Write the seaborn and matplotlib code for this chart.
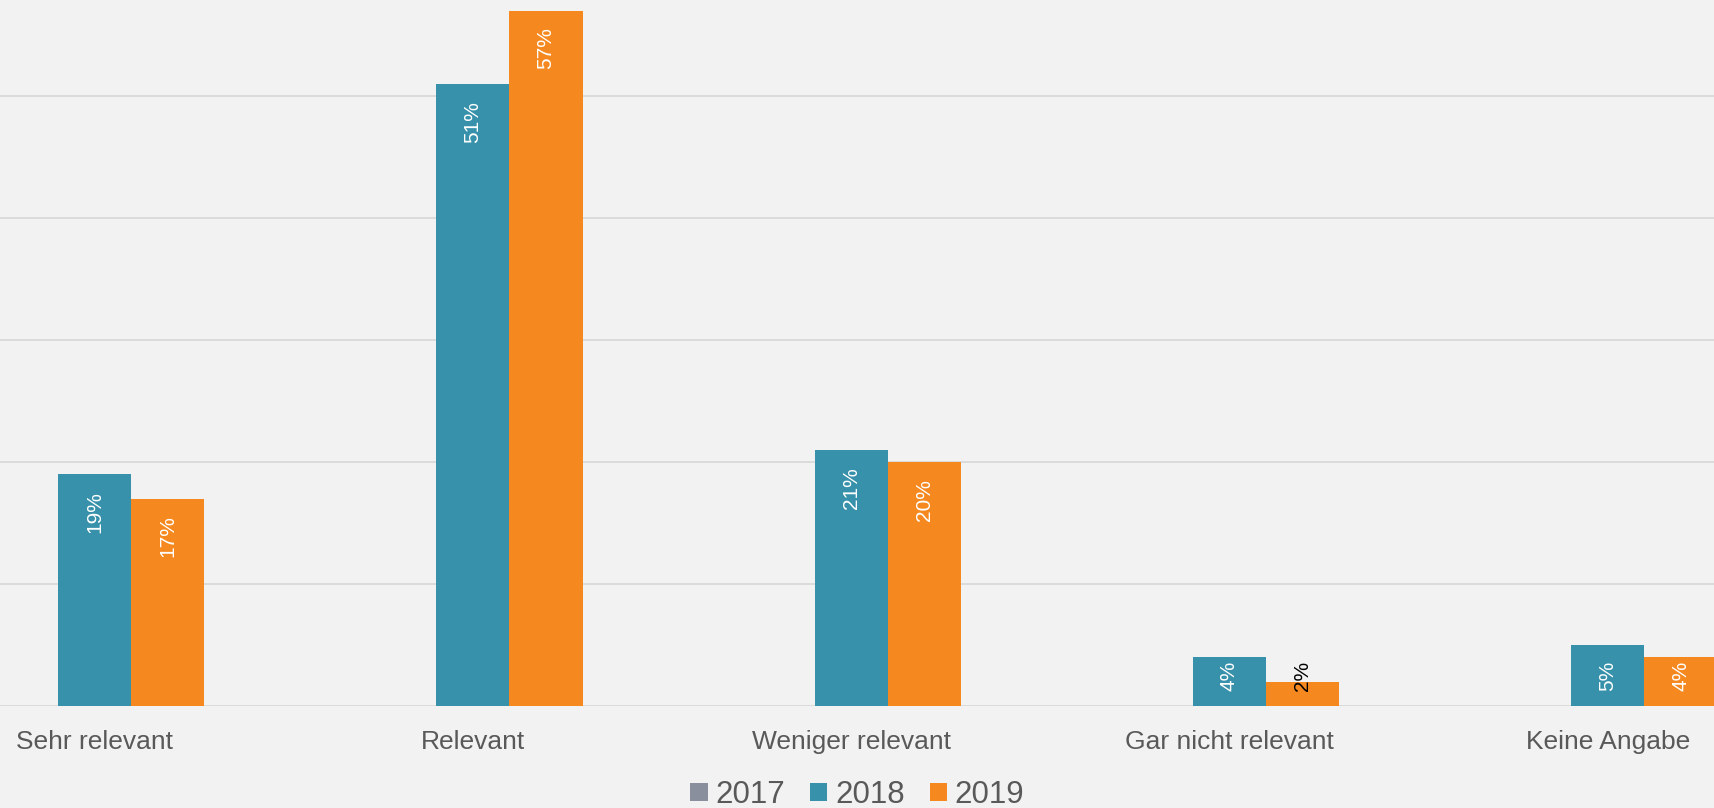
import numpy as np
import pandas as pd
import matplotlib.pyplot as plt
import seaborn as sns
from matplotlib.patches import Patch

categories = ["Sehr relevant", "Relevant", "Weniger relevant", "Gar nicht relevant", "Keine Angabe"]
years = ["2017", "2018", "2019"]
vals_2017 = [np.nan, np.nan, np.nan, np.nan, np.nan]
vals_2018 = [19, 51, 21, 4, 5]
vals_2019 = [17, 57, 20, 2, 4]
colors = {"2017": "#8a8f9e", "2018": "#3891ab", "2019": "#f5891f"}

df = pd.DataFrame({
    "cat": categories * 3,
    "year": ["2017"] * 5 + ["2018"] * 5 + ["2019"] * 5,
    "val": vals_2017 + vals_2018 + vals_2019,
})

sns.set_theme(style="white")
plt.rcParams["font.family"] = ["Liberation Sans", "DejaVu Sans"]
bg = "#f2f2f2"
txt = "#595959"

fig = plt.figure(figsize=(17.15, 8.08), dpi=100, facecolor=bg)
ax = fig.add_axes([0, 102 / 808, 1, 706 / 808])
ax.set_facecolor(bg)

sns.barplot(data=df, x="cat", y="val", hue="year", hue_order=years, order=categories,
            palette=colors, width=0.58, dodge=True, legend=False, ax=ax,
            linewidth=0, saturation=1)

# category slot ~378 px, first group centred at ~95 px
slot = 378.3
ax.set_xlim(-94.6 / slot, (1715 - 94.6) / slot)
ax.set_ylim(0, 706 / 12.2)
ax.set_yticks([0, 10, 20, 30, 40, 50])
ax.set_yticklabels([])
ax.yaxis.grid(True, color="#d9d9d9", linewidth=1.3)
ax.set_axisbelow(True)
for s in ax.spines.values():
    s.set_visible(False)
ax.set_xlabel("")
ax.set_ylabel("")
ax.tick_params(axis="x", length=0, pad=17, labelsize=19, labelcolor=txt)
ax.tick_params(axis="y", length=0)

for cont in ax.containers:
    for bar in cont:
        h = bar.get_height()
        if np.isnan(h) or h == 0:
            continue
        x = bar.get_x() + bar.get_width() / 2
        label = f"{h:.0f}%"
        col = "white" if h > 3 else "black"
        if h >= 8:
            ax.annotate(label, xy=(x, h), xytext=(0, -17), textcoords="offset pixels",
                        rotation=90, ha="center", va="top", fontsize=15, color=col)
        else:
            ax.annotate(label, xy=(x, 0), xytext=(0, 15), textcoords="offset pixels",
                        rotation=90, ha="center", va="bottom", fontsize=15, color=col)

handles = [Patch(facecolor=colors[y], edgecolor="none", label=y) for y in years]
fig.legend(handles=handles, loc="center", bbox_to_anchor=(0.5, 13 / 808), ncol=3,
           frameon=False, fontsize=22.5, labelcolor=txt, handlelength=0.55,
           handleheight=0.55, handletextpad=0.25, columnspacing=0.8, borderaxespad=0)

fig.savefig("out.png", dpi=100, facecolor=bg)
